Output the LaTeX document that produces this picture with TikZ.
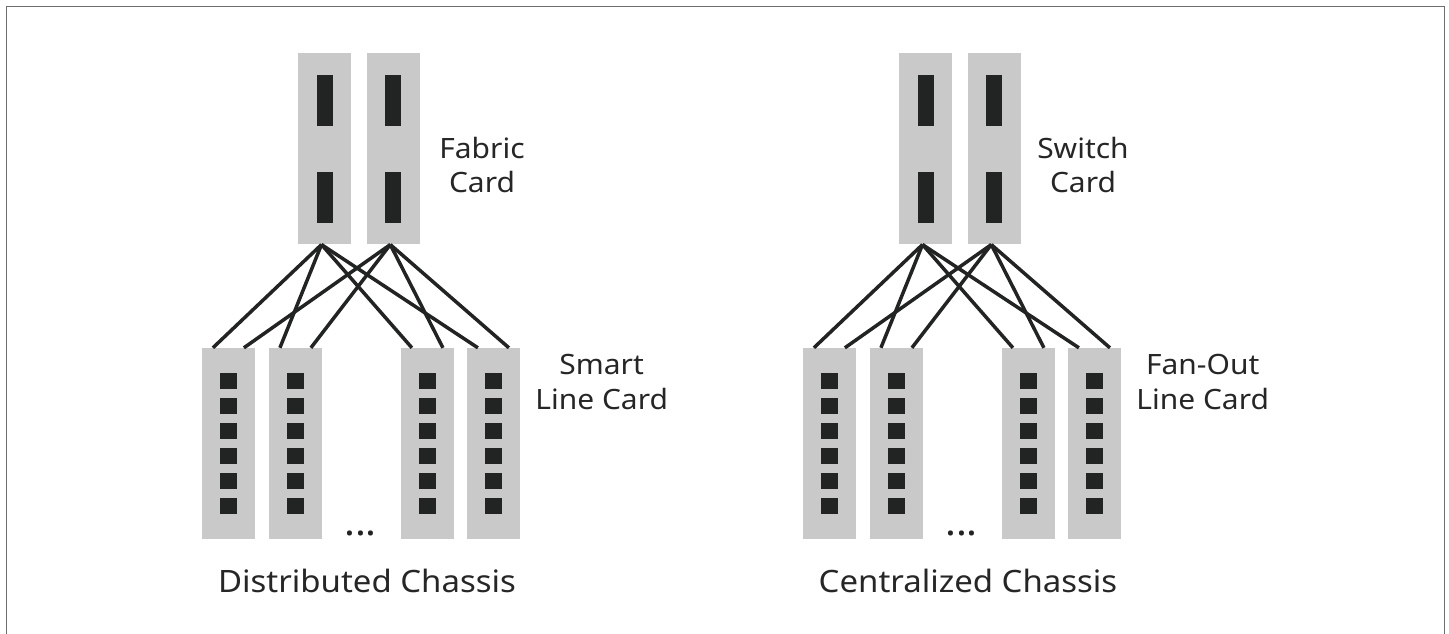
\documentclass[tikz,border=0pt]{standalone}
\usepackage{fontspec}
\setmainfont{Noto Sans}[FakeStretch=1.07]
\usetikzlibrary{calc}

\definecolor{cardgray}{HTML}{C8C9C8}
\definecolor{chipdark}{HTML}{222423}
\definecolor{framegray}{HTML}{6D6E70}
\definecolor{labeltext}{HTML}{262626}

\tikzset{
  card/.style={fill=cardgray, inner sep=0pt, minimum width=26.4pt, minimum height=95.5pt},
  bar/.style={fill=chipdark, inner sep=0pt, minimum width=8pt, minimum height=25.5pt},
  port/.style={fill=chipdark, inner sep=0pt, minimum width=8.5pt, minimum height=8pt},
  link/.style={draw=chipdark, line width=1.75pt},
  cardlabel/.style={text=labeltext, align=center, anchor=base, inner sep=0pt,
    font=\fontsize{14}{17.2}\selectfont},
  title/.style={text=labeltext, anchor=base, inner sep=0pt, font=\fontsize{15.4}{18}\selectfont},
  dots/.style={text=chipdark, anchor=base, inner sep=0pt, font=\fontsize{19}{20}\selectfont\bfseries}
}

\begin{document}
\begin{tikzpicture}[x=0.5pt, y=-0.5pt]
  \useasboundingbox (0,0) rectangle (1449,633);
  \draw[framegray, line width=0.75pt] (6.5,6.5) rectangle (1444.5,700);

  \foreach \sx/\ch/\upper/\lower/\name in
      {0/d/Fabric/Smart/Distributed Chassis, 601/c/Switch/Fan-Out/Centralized Chassis}{
  \begin{scope}[xshift=\sx*0.5pt]
    % Fabric / switch cards
    \node[card] (\ch f1) at (324.5,148.7) {};
    \node[card] (\ch f2) at (393.3,148.7) {};
    \foreach \f in {1,2}
      \foreach \dy in {-48.5,48.5}
        \node[bar] at ($(\ch f\f)+(0,\dy)$) {};
    \node[cardlabel] (\ch top) at (482,192.7) {\upper\\Card};

    % Line cards
    \foreach \i/\x in {1/228.4, 2/295.4, 3/427.4, 4/493.4}{
      \node[card] (\ch l\i) at (\x,443.7) {};
      \foreach \k in {0,...,5}
        \node[port] at ($(\ch l\i)+(0,-62.5+25*\k)$) {};
    }
    \node[cardlabel] (\ch low) at (601.7,409) {\lower\\Line Card};
    \node[dots] (\ch dots) at (360.5,535.5) {...};

    % Links
    \foreach \i in {1,...,4}{
      \draw[link] ($(\ch f1.south)+(-3,0)$) -- ($(\ch l\i.north)+(-15.5,0)$);
      \draw[link] ($(\ch f2.south)+(-3,0)$) -- ($(\ch l\i.north)+(15.5,0)$);
    }

    \node[title] (\ch name) at (367,592.7) {\name};
  \end{scope}}
\end{tikzpicture}
\end{document}
